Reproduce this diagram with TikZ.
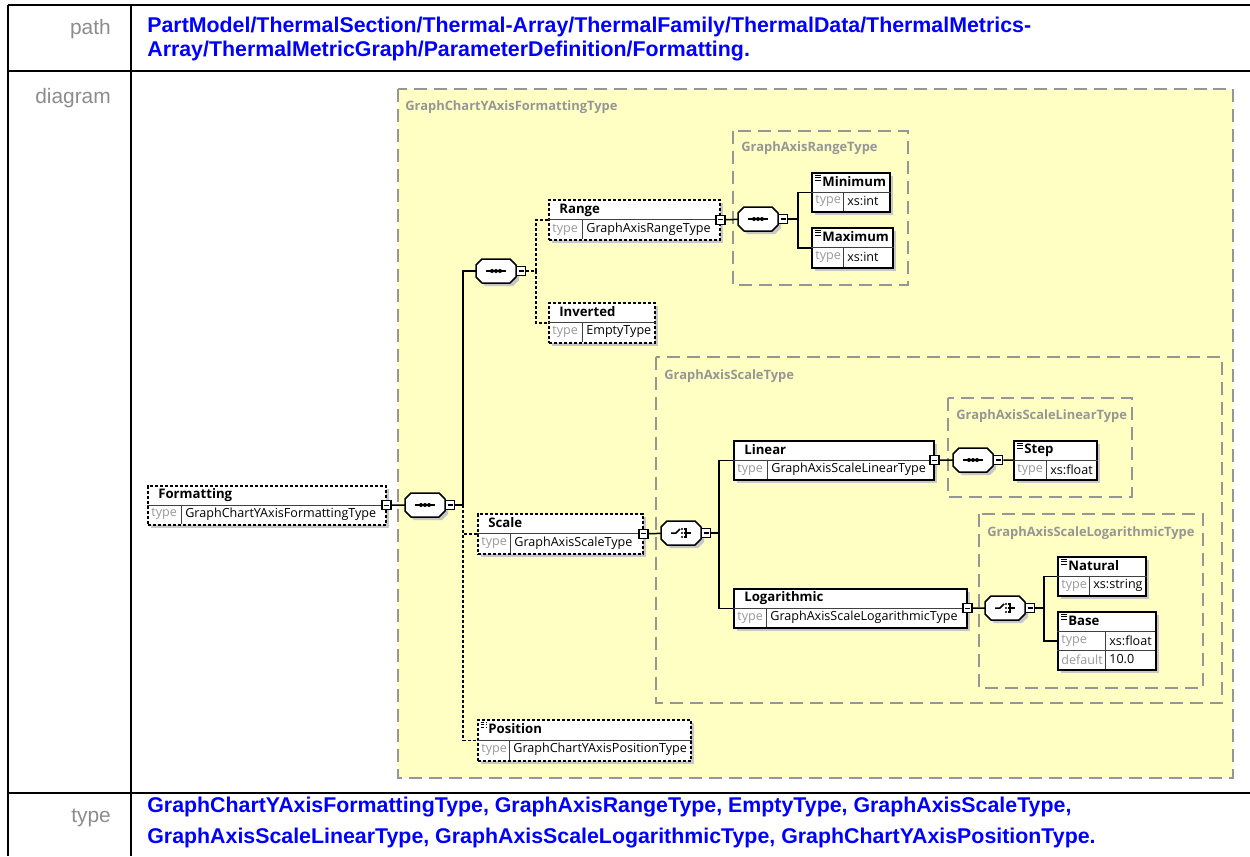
\documentclass[tikz,border=0pt]{standalone}
\usepackage{fontspec}
\usetikzlibrary{shadows}
\newfontfamily\tabfont{Liberation Sans}
\newfontfamily\xsdfont{Open Sans}
\definecolor{schemayellow}{RGB}{255,255,196}
\definecolor{grpgray}{RGB}{150,150,150}

\begin{document}
\begin{tikzpicture}[x=0.02cm, y=-0.02cm,
    wd/.style={minimum width=#1*0.02cm},
    ht/.style={minimum height=#1*0.02cm},
    tabline/.style={line width=0.04cm},
    rowlabel/.style={anchor=east, text=black!45, font=\tabfont\fontsize{11.9}{14}\selectfont},
    bluetext/.style={anchor=west, text=blue, inner sep=0, font=\tabfont\bfseries\fontsize{12.15}{14}\selectfont},
    group/.style={draw=grpgray, line width=0.03cm, dash pattern=on 0.26cm off 0.14cm},
    grouplabel/.style={anchor=west, inner sep=0, text=grpgray, font=\xsdfont\bfseries\fontsize{7.35}{8}\selectfont},
    elbox/.style={draw, fill=white, line width=0.03cm, anchor=north west, inner sep=0,
        drop shadow={shadow xshift=0.06cm, shadow yshift=-0.06cm, fill=black!22, opacity=1}},
    optional/.style={dash pattern=on 0.06cm off 0.04cm},
    simple/.style={path picture={
        \foreach \k in {2.5,5,7.5}
            \draw[line width=0.02cm] ([shift={(3,\k)}]path picture bounding box.north west) -- ++(6,0);}},
    inner/.style={line width=0.02cm, draw=black!75},
    elname/.style={anchor=west, inner sep=0, font=\xsdfont\bfseries\fontsize{7.5}{8}\selectfont},
    eltype/.style={anchor=west, inner sep=0, text=black!40, font=\xsdfont\fontsize{7.15}{8}\selectfont},
    elval/.style={anchor=west, inner sep=0, font=\xsdfont\fontsize{7.15}{8}\selectfont},
    compo/.style={minimum width=0.8cm, minimum height=0.48cm, inner sep=0, outer sep=0},
    octo/.style={insert path={([xshift=0.12cm]#1.north west) -- ([xshift=-0.12cm]#1.north east)
        -- ([yshift=-0.12cm]#1.north east) -- ([yshift=0.12cm]#1.south east)
        -- ([xshift=-0.12cm]#1.south east) -- ([xshift=0.12cm]#1.south west)
        -- ([yshift=0.12cm]#1.south west) -- ([yshift=-0.12cm]#1.north west) -- cycle}},
    minus/.style={draw, fill=white, line width=0.025cm, minimum size=0.18cm, inner sep=0, path picture={
        \draw[line width=0.025cm] ([xshift=-0.05cm]path picture bounding box.center) -- ([xshift=0.05cm]path picture bounding box.center);}},
    conn/.style={line width=0.03cm},
    optconn/.style={conn, dash pattern=on 0.06cm off 0.04cm}
]
    \useasboundingbox (0,0) rectangle (1250,856);

    % tabla
    \draw[tabline] (8,5) -- (1250,5) (8,71) -- (1250,71) (8,793) -- (1250,793);
    \draw[tabline] (8,5) -- (8,856) (131,5) -- (131,856);
    \node[rowlabel] (lpath) at (117,29) {path};
    \node[rowlabel] (ldiag) at (117,98) {diagram};
    \node[rowlabel] (ltype) at (117,818) {type};
    \node[bluetext] (path1) at (147,27) {PartModel/ThermalSection/Thermal-Array/ThermalFamily/ThermalData/ThermalMetrics-};
    \node[bluetext] (path2) at (147,51) {Array/ThermalMetricGraph/ParameterDefinition/Formatting.};
    \node[bluetext] (type1) at (147,807) {GraphChartYAxisFormattingType, GraphAxisRangeType, EmptyType, GraphAxisScaleType,};
    \node[bluetext] (type2) at (147,838) {GraphAxisScaleLinearType, GraphAxisScaleLogarithmicType, GraphChartYAxisPositionType.};

    % tipos complejos
    \draw[group, fill=schemayellow] (398,89) rectangle (1233,778);
    \node[grouplabel] (g0) at (405,107) {GraphChartYAxisFormattingType};
    \draw[group] (733,131) rectangle (908,285);
    \node[grouplabel] (g1) at (741,148) {GraphAxisRangeType};
    \draw[group] (656,357) rectangle (1222,703);
    \node[grouplabel] (g2) at (664,376) {GraphAxisScaleType};
    \draw[group] (948,398) rectangle (1132,497);
    \node[grouplabel] (g3) at (956,416) {GraphAxisScaleLinearType};
    \draw[group] (979,514) rectangle (1203,688);
    \node[grouplabel] (g4) at (987,533) {GraphAxisScaleLogarithmicType};

    % Formatting
    \node[elbox, optional, wd=238, ht=39] (fmt) at (147,485) {};
    \draw[inner] (fmt.west) -- (fmt.east) (181,504.5) -- (181,524);
    \node[elname] (fmt-n) at (158,495) {Formatting};
    \node[eltype] (fmt-t) at (151,514) {type};
    \node[elval] (fmt-v) at (185,514) {GraphChartYAxisFormattingType};
    \node[minus] (fmt-m) at (fmt.east) {};

    % Range
    \node[elbox, optional, wd=171, ht=40] (rng) at (548,199) {};
    \draw[inner] (rng.west) -- (rng.east) (582,219) -- (582,239);
    \node[elname] (rng-n) at (559,210) {Range};
    \node[eltype] (rng-t) at (552,229.5) {type};
    \node[elval] (rng-v) at (586,229.5) {GraphAxisRangeType};
    \node[minus] (rng-m) at (rng.east) {};

    % Inverted
    \node[elbox, optional, wd=106, ht=40] (inv) at (548,302) {};
    \draw[inner] (inv.west) -- (inv.east) (582,322) -- (582,342);
    \node[elname] (inv-n) at (559,312) {Inverted};
    \node[eltype] (inv-t) at (552,332) {type};
    \node[elval] (inv-v) at (586,332) {EmptyType};

    % Minimum, Maximum
    \node[elbox, simple, wd=78, ht=39] (min) at (811,172) {};
    \draw[inner] (min.west) -- (min.east) (843,191.5) -- (843,211);
    \node[elname] (min-n) at (822,182) {Minimum};
    \node[eltype] (min-t) at (815,201) {type};
    \node[elval] (min-v) at (847,201) {xs:int};
    \node[elbox, simple, wd=81, ht=40] (max) at (811,227) {};
    \draw[inner] (max.west) -- (max.east) (843,247) -- (843,267);
    \node[elname] (max-n) at (822,237) {Maximum};
    \node[eltype] (max-t) at (815,257) {type};
    \node[elval] (max-v) at (847,257) {xs:int};

    % Scale
    \node[elbox, optional, wd=165, ht=40] (scl) at (477,513) {};
    \draw[inner] (scl.west) -- (scl.east) (510,533) -- (510,553);
    \node[elname] (scl-n) at (488,523) {Scale};
    \node[eltype] (scl-t) at (481,543) {type};
    \node[elval] (scl-v) at (514,543) {GraphAxisScaleType};
    \node[minus] (scl-m) at (scl.east) {};

    % Linear, Step
    \node[elbox, wd=200, ht=39] (lin) at (733,440) {};
    \draw[inner] (lin.west) -- (lin.east) (767,459.5) -- (767,479);
    \node[elname] (lin-n) at (744,450) {Linear};
    \node[eltype] (lin-t) at (737,469.5) {type};
    \node[elval] (lin-v) at (771,469.5) {GraphAxisScaleLinearType};
    \node[minus] (lin-m) at (lin.east) {};
    \node[elbox, simple, wd=83, ht=39] (stp) at (1013,440) {};
    \draw[inner] (stp.west) -- (stp.east) (1046,459.5) -- (1046,479);
    \node[elname] (stp-n) at (1024,450) {Step};
    \node[eltype] (stp-t) at (1017,469.5) {type};
    \node[elval] (stp-v) at (1050,469.5) {xs:float};

    % Logarithmic, Natural, Base
    \node[elbox, wd=233, ht=39] (log) at (733,588) {};
    \draw[inner] (log.west) -- (log.east) (766,607.5) -- (766,627);
    \node[elname] (log-n) at (744,598) {Logarithmic};
    \node[eltype] (log-t) at (737,617.5) {type};
    \node[elval] (log-v) at (770,617.5) {GraphAxisScaleLogarithmicType};
    \node[minus] (log-m) at (log.east) {};
    \node[elbox, simple, wd=88, ht=39] (nat) at (1057,556) {};
    \draw[inner] (nat.west) -- (nat.east) (1089,575.5) -- (1089,595);
    \node[elname] (nat-n) at (1068,566) {Natural};
    \node[eltype] (nat-t) at (1061,585.5) {type};
    \node[elval] (nat-v) at (1093,585.5) {xs:string};
    \node[elbox, simple, wd=98, ht=58] (base) at (1057,611) {};
    \draw[inner] (1057,631) -- (1155,631) (1057,650) -- (1155,650) (1105,631) -- (1105,669);
    \node[elname] (base-n) at (1068,621) {Base};
    \node[eltype] (base-t) at (1061,640.5) {type};
    \node[elval] (base-v) at (1109,640.5) {xs:float};
    \node[eltype] (base-d) at (1061,659.5) {default};
    \node[elval] (base-dv) at (1109,659.5) {10.0};

    % Position
    \node[elbox, optional, simple, wd=213, ht=41] (pos) at (477,719) {};
    \draw[inner] (pos.west) -- (pos.east) (509,739.5) -- (509,760);
    \node[elname] (pos-n) at (488,729) {Position};
    \node[eltype] (pos-t) at (481,749.5) {type};
    \node[elval] (pos-v) at (513,749.5) {GraphChartYAxisPositionType};

    % compositores
    \node[compo] (c0) at (425,505) {};
    \node[compo] (c1) at (496,271) {};
    \node[compo] (c2) at (758,219) {};
    \node[compo] (c3) at (681,533) {};
    \node[compo] (c4) at (973,460) {};
    \node[compo] (c5) at (1005,608) {};
    \foreach \c in {c0,c1,c2,c3,c4,c5} {
        \fill[black!22, transform canvas={xshift=0.06cm, yshift=-0.06cm}] [octo=\c];
        \draw[conn, fill=white, line join=round] [octo=\c];
        \node[minus, anchor=west] (\c-m) at (\c.east) {};
    }
    % secuencia
    \foreach \c in {c0,c1,c2,c4} {
        \draw[conn] ([xshift=-0.2cm]\c.center) -- ([xshift=0.2cm]\c.center);
        \foreach \d in {-0.08,0,0.08}
            \fill ([xshift=\d cm]\c.center) circle (0.04cm);
    }
    % eleccion
    \foreach \c in {c3,c5} {
        \draw[conn] ([xshift=-0.2cm]\c.center) -- ([xshift=-0.1cm]\c.center) -- ([xshift=-0.02cm, yshift=0.08cm]\c.center);
        \foreach \d in {-0.08,0,0.08}
            \fill ([xshift=0.02cm, yshift=\d cm]\c.center) circle (0.022cm);
        \draw[conn] ([xshift=0.06cm, yshift=0.08cm]\c.center) -- ([xshift=0.1cm, yshift=0.08cm]\c.center)
            -- ([xshift=0.1cm, yshift=-0.08cm]\c.center) -- ([xshift=0.06cm, yshift=-0.08cm]\c.center);
        \draw[conn] ([xshift=0.06cm]\c.center) -- ([xshift=0.2cm]\c.center);
    }

    \coordinate (t0) at (463,505);
    \coordinate (t1) at (536,271);
    \coordinate (t2) at (798,219);
    \coordinate (t3) at (719,533);
    \coordinate (t5) at (1044,608);

    % conectores
    \draw[conn] (fmt-m) -- (c0);
    \draw[conn] (c0-m) -- (t0) |- (c1);
    \draw[optconn] (t0) |- (scl);
    \draw[optconn] (t0) |- (pos);
    \draw[optconn] (c1-m) -- (t1) |- (rng);
    \draw[optconn] (t1) |- (inv);
    \draw[conn] (rng-m) -- (c2);
    \draw[conn] (c2-m) -- (t2) |- (min);
    \draw[conn] (t2) |- (max);
    \draw[conn] (scl-m) -- (c3);
    \draw[conn] (c3-m) -- (t3) |- (lin);
    \draw[conn] (t3) |- (log);
    \draw[conn] (lin-m) -- (c4);
    \draw[conn] (c4-m) -- (stp);
    \draw[conn] (log-m) -- (c5);
    \draw[conn] (c5-m) -- (t5) |- (nat);
    \draw[conn] (t5) |- (base);
\end{tikzpicture}
\end{document}
